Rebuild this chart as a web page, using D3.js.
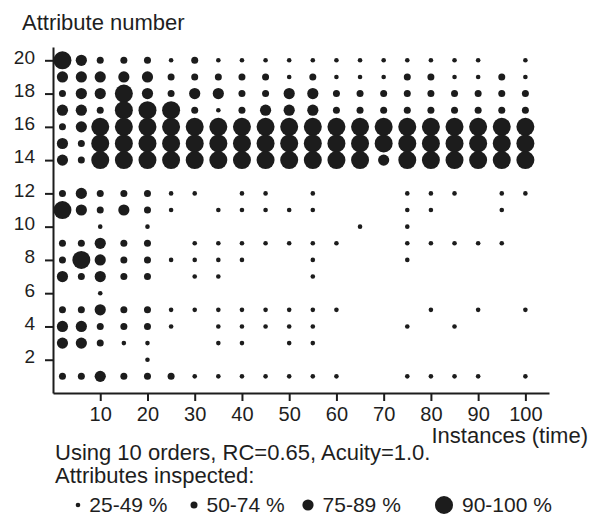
<!DOCTYPE html>
<html>
<head>
<meta charset="utf-8">
<script src="https://cdn.jsdelivr.net/npm/d3@7"></script>
<style>
    body { margin: 0; background: #fff; }
    svg text { font-family: "Liberation Sans", Arial, Helvetica, sans-serif; fill: #1e1e1e; }
</style>
</head>
<body>
<div id="container"></div>
<script>
var width = 589,
    height = 515;

// instances (time) at which attention was sampled
var instances = [2, 6, 10, 15, 20, 25, 30, 35, 40, 45, 50, 55, 60, 65, 70, 75, 80, 85, 90, 95, 100];
// attribute rows, top to bottom
var attributes = [20, 19, 18, 17, 16, 15, 14, 13, 12, 11, 10, 9, 8, 7, 6, 5, 4, 3, 2, 1];
// class of % inspected per attribute (row) and instance (column)
// 0 = none, 1 = 25-49 %, 2 = 50-74 %, 3 = 75-89 %, 4 = 90-100 %
var inspected = [
    [4, 3, 2, 2, 2, 1, 2, 1, 1, 1, 1, 1, 1, 1, 1, 1, 1, 1, 1, 0, 1],
    [3, 3, 3, 3, 3, 2, 2, 2, 2, 2, 1, 2, 1, 1, 1, 2, 2, 1, 1, 2, 1],
    [2, 3, 3, 4, 3, 2, 3, 3, 2, 2, 3, 3, 2, 2, 2, 2, 2, 2, 2, 2, 2],
    [3, 3, 2, 4, 4, 4, 2, 1, 2, 3, 3, 3, 2, 2, 2, 2, 2, 2, 2, 2, 2],
    [2, 3, 4, 4, 4, 4, 4, 4, 4, 4, 4, 4, 4, 4, 4, 4, 4, 4, 4, 4, 4],
    [3, 2, 4, 4, 4, 4, 4, 4, 4, 4, 4, 4, 4, 4, 4, 4, 4, 4, 4, 4, 4],
    [3, 2, 4, 4, 4, 4, 4, 4, 4, 4, 4, 4, 4, 4, 3, 4, 4, 4, 4, 4, 4],
    [0, 0, 0, 0, 0, 0, 0, 0, 0, 0, 0, 0, 0, 0, 0, 0, 0, 0, 0, 0, 0],
    [2, 3, 2, 2, 2, 1, 1, 0, 1, 1, 0, 1, 0, 0, 0, 1, 1, 1, 0, 1, 1],
    [4, 3, 2, 3, 2, 1, 0, 1, 1, 1, 1, 1, 0, 0, 0, 1, 1, 0, 0, 1, 0],
    [0, 0, 1, 0, 1, 0, 0, 0, 0, 0, 0, 0, 0, 1, 0, 1, 0, 0, 0, 0, 0],
    [2, 2, 3, 2, 2, 0, 1, 1, 1, 1, 1, 1, 1, 0, 0, 1, 1, 1, 1, 1, 0],
    [2, 4, 3, 2, 2, 1, 1, 1, 1, 0, 0, 1, 0, 0, 0, 1, 0, 0, 0, 0, 0],
    [3, 2, 3, 2, 2, 0, 1, 1, 0, 0, 0, 1, 0, 0, 0, 0, 0, 0, 0, 0, 0],
    [0, 0, 1, 0, 0, 0, 0, 0, 0, 0, 0, 0, 0, 0, 0, 0, 0, 0, 0, 0, 0],
    [2, 2, 3, 2, 2, 1, 1, 1, 1, 1, 1, 1, 1, 0, 0, 0, 1, 0, 1, 0, 1],
    [3, 3, 2, 2, 2, 1, 0, 1, 1, 1, 1, 1, 0, 0, 0, 1, 0, 1, 0, 0, 0],
    [3, 3, 2, 1, 1, 0, 0, 1, 1, 0, 1, 1, 0, 0, 0, 0, 0, 0, 0, 0, 0],
    [0, 0, 0, 0, 1, 0, 0, 0, 0, 0, 0, 0, 0, 0, 0, 0, 0, 0, 0, 0, 0],
    [2, 2, 3, 2, 2, 2, 1, 1, 1, 1, 1, 1, 1, 0, 0, 1, 1, 1, 1, 0, 1]
];
var sizeClasses = [1, 2, 3, 4];
var legendLabels = ["25-49 %", "50-74 %", "75-89 %", "90-100 %"];
var xTicks = [10, 20, 30, 40, 50, 60, 70, 80, 90, 100];
var yTicks = [2, 4, 6, 8, 10, 12, 14, 16, 18, 20];

var ink = "#1c1c1c";

var svg = d3.select("#container").append("svg")
    .attr("width", width)
    .attr("height", height);

var x = d3.scaleLinear()
    .domain([0, 105])
    .range([53, 549]);

var y = d3.scaleLinear()
    .domain([0, 20.8])
    .range([393, 47]);

var rScale = d3.scaleOrdinal()
    .domain(sizeClasses)
    .range([2.3, 3.5, 5.6, 9]);

// axes
let yAxis = svg.append("g")
    .attr("transform", "translate(" + x(0) + ",0)")
    .call(d3.axisLeft(y).tickValues(yTicks).tickSize(8).tickSizeOuter(0).tickPadding(10));
yAxis.selectAll("text")
    .attr("dy", "0.15em")
    .style("font-size", "19px");

let xAxis = svg.append("g")
    .attr("transform", "translate(0," + y(0) + ")")
    .call(d3.axisBottom(x).tickValues(xTicks).tickSize(8).tickSizeOuter(0).tickPadding(6));
xAxis.selectAll("text")
    .style("font-size", "20px");

svg.selectAll(".domain, .tick line")
    .attr("stroke", ink)
    .attr("stroke-width", 2);

// dots
let cells = [];
for (let i = 0; i < attributes.length; ++i) {
    for (let j = 0; j < instances.length; ++j) {
        if (inspected[i][j] == 0) continue;
        cells.push({ attr: attributes[i], inst: instances[j], cls: inspected[i][j] });
    }
}

svg.append("g").selectAll("circle")
    .data(cells)
    .enter().append("circle")
    .attr("cx", d => x(d.inst))
    .attr("cy", d => y(d.attr))
    .attr("r", d => rScale(d.cls))
    .attr("fill", ink);

// labels
svg.append("text")
    .attr("x", 22)
    .attr("y", 30)
    .style("font-size", "22px")
    .text("Attribute number");

svg.append("text")
    .attr("x", 588)
    .attr("y", 443)
    .attr("text-anchor", "end")
    .style("font-size", "22px")
    .text("Instances (time)");

svg.append("text")
    .attr("x", 55)
    .attr("y", 460)
    .style("font-size", "22px")
    .text("Using 10 orders, RC=0.65, Acuity=1.0.");

svg.append("text")
    .attr("x", 55)
    .attr("y", 483)
    .style("font-size", "22px")
    .text("Attributes inspected:");

// legend
let legendX = [78, 194, 308, 444];
let lg = svg.append("g")
    .selectAll("g")
    .data(sizeClasses)
    .enter().append("g")
    .attr("transform", (d, i) => "translate(" + legendX[i] + ",505)");

lg.append("circle")
    .attr("r", d => rScale(d))
    .attr("fill", ink);

lg.append("text")
    .attr("x", d => rScale(d) + 9)
    .attr("y", 7)
    .style("font-size", "21px")
    .text((d, i) => legendLabels[i]);
</script>
</body>
</html>
